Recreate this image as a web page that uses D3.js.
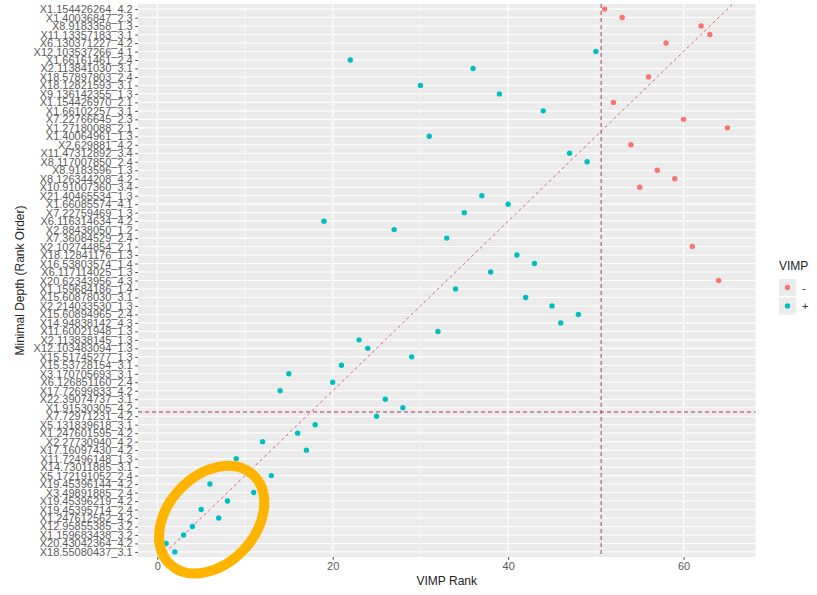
<!DOCTYPE html>
<html lang="en">
<head>
    <meta charset="UTF-8">
    <title>Minimal depth vs VIMP rank</title>
    <style>
        body { margin: 0; background: #fff; }
        text { font-family: "Liberation Sans", Arial, sans-serif; }
    </style>
</head>
<body>
    <script src="https://cdnjs.cloudflare.com/ajax/libs/d3/7.8.5/d3.min.js"></script>
    <script>

        // variables, listed top to bottom as on the axis (top = highest minimal depth rank)
        var labels = [
            "X1.154426264_4.2", "X1.40036847_2.3", "X8.9183358_1.3", "X11.13357183_3.1",
            "X6.130371227_4.2", "X12.103537266_4.1", "X1.66161461_2.4", "X2.113841030_3.1",
            "X18.57897803_2.4", "X18.12821593_3.1", "X9.136142355_1.3", "X1.154426970_2.1",
            "X1.66102257_3.1", "X7.22766645_2.3", "X1.27180088_2.1", "X1.40064961_1.3",
            "X2.629881_4.2", "X11.47312892_3.4", "X8.117007850_2.4", "X8.9183596_1.3",
            "X8.126344208_4.2", "X10.91007360_3.4", "X21.40465534_1.3", "X1.66085574_4.1",
            "X7.22759469_1.3", "X6.116314634_4.2", "X2.88438050_1.2", "X7.36084529_2.4",
            "X2.102744854_2.1", "X18.12841176_1.3", "X16.53803574_1.4", "X6.117114025_1.3",
            "X20.62343956_4.3", "X1.159684186_1.4", "X15.60878030_3.1", "X2.214033530_1.3",
            "X15.60894965_2.4", "X14.94838142_4.3", "X11.60021948_1.3", "X2.113838145_1.3",
            "X12.103483094_1.3", "X15.51745277_1.3", "X15.53728154_3.1", "X3.170705693_3.1",
            "X6.126851160_2.4", "X17.72699833_4.2", "X22.39074737_3.1", "X1.91530305_4.2",
            "X7.72971231_4.2", "X5.131839618_3.1", "X1.247601595_4.2", "X2.27730940_4.2",
            "X17.16097430_4.2", "X11.72496148_1.3", "X14.73011885_3.1", "X5.172191052_2.4",
            "X19.45396144_4.2", "X3.49891885_2.4", "X19.45396219_4.2", "X19.45395714_2.4",
            "X1.247612562_4.2", "X12.95855385_3.2", "X1.159683438_3.2", "X20.43042364_4.2",
            "X18.55080437_3.1"
        ];

        // VIMP rank of each variable, same order as labels
        var vimpRank = [
            51, 53, 62, 63, 58, 50, 22, 36, 56, 30, 39, 52, 44, 60, 65, 31,
            54, 47, 49, 57, 59, 55, 37, 40, 35, 19, 27, 33, 61, 41, 43, 38,
            64, 34, 42, 45, 48, 46, 32, 23, 24, 29, 21, 15, 20, 14, 26, 28,
            25, 18, 16, 12, 17, 9, 10, 13, 6, 11, 8, 5, 7, 4, 3, 1, 2
        ];

        // sign of VIMP, same order
        var vimpSign = [
            "-", "-", "-", "-", "-", "+", "+", "+", "-", "+", "+", "-", "+", "-", "-", "+",
            "-", "+", "+", "-", "-", "-", "+", "+", "+", "+", "+", "+", "-", "+", "+", "+",
            "-", "+", "+", "+", "+", "+", "+", "+", "+", "+", "+", "+", "+", "+", "+", "+",
            "+", "+", "+", "+", "+", "+", "+", "+", "+", "+", "+", "+", "+", "+", "+", "+", "+"
        ];

        var xTicks = [0, 20, 40, 60];
        var xMinor = [10, 30, 50];
        var vimpCut = 50.6;    // vertical threshold
        var depthCut = 17.5;   // horizontal threshold
        var legendKeys = ["-", "+"];

        var width = 817,
            height = 595;

        var panel = { left: 138, right: 755.5, top: 4, bottom: 557 };
        var n = labels.length;

        var color = d3.scaleOrdinal()
            .domain(legendKeys)
            .range(["#F8766D", "#00BFC4"]);

        var x = d3.scaleLinear()
            .domain([-2.2, 68.2])
            .range([panel.left, panel.right]);

        // minimal depth rank: 1 at bottom, n at top
        var yRank = d3.scaleLinear()
            .domain([0.4, n + 0.6])
            .range([panel.bottom, panel.top]);

        var y = d3.scalePoint()
            .domain(labels)
            .range([panel.top, panel.bottom])
            .padding(0.6);

        var svg = d3.select("body").append("svg")
            .attr("width", width)
            .attr("height", height);

        svg.append("rect")
            .attr("x", panel.left)
            .attr("y", panel.top)
            .attr("width", panel.right - panel.left)
            .attr("height", panel.bottom - panel.top)
            .attr("fill", "#EBEBEB");

        var grid = svg.append("g");

        grid.selectAll(".minor")
            .data(xMinor)
            .enter().append("line")
            .attr("x1", function(d) { return x(d); })
            .attr("x2", function(d) { return x(d); })
            .attr("y1", panel.top)
            .attr("y2", panel.bottom)
            .attr("stroke", "#fff")
            .attr("stroke-width", 0.6);

        grid.selectAll(".major")
            .data(xTicks)
            .enter().append("line")
            .attr("x1", function(d) { return x(d); })
            .attr("x2", function(d) { return x(d); })
            .attr("y1", panel.top)
            .attr("y2", panel.bottom)
            .attr("stroke", "#fff")
            .attr("stroke-width", 1.1);

        grid.selectAll(".hgrid")
            .data(labels)
            .enter().append("line")
            .attr("x1", panel.left)
            .attr("x2", panel.right)
            .attr("y1", function(d) { return y(d); })
            .attr("y2", function(d) { return y(d); })
            .attr("stroke", "#fff")
            .attr("stroke-width", 1.1);

        // axes
        var xAxis = svg.append("g")
            .attr("transform", "translate(0," + panel.bottom + ")")
            .call(d3.axisBottom(x).tickValues(xTicks).tickSize(2.8).tickPadding(2));

        var yAxis = svg.append("g")
            .attr("transform", "translate(" + panel.left + ",0)")
            .call(d3.axisLeft(y).tickSize(2.8).tickPadding(2.5));

        [xAxis, yAxis].forEach(function(g) {
            g.select(".domain").remove();
            g.selectAll(".tick line").attr("stroke", "#4D4D4D").attr("stroke-width", 1);
            g.selectAll(".tick text")
                .attr("fill", "#5A5A5A")
                .style("font-family", "'Liberation Sans', Arial, sans-serif")
                .style("font-size", "11px");
        });

        // reference lines
        svg.append("line")
            .attr("x1", x(vimpCut)).attr("x2", x(vimpCut))
            .attr("y1", panel.top).attr("y2", panel.bottom)
            .attr("stroke", "#B23A62")
            .attr("stroke-width", 1)
            .attr("stroke-dasharray", "4,3");

        svg.append("line")
            .attr("x1", panel.left).attr("x2", panel.right)
            .attr("y1", yRank(depthCut)).attr("y2", yRank(depthCut))
            .attr("stroke", "#B23A62")
            .attr("stroke-width", 1)
            .attr("stroke-dasharray", "4,3");

        var d0 = Math.max(x.domain()[0], yRank.domain()[0]),
            d1 = Math.min(x.domain()[1], yRank.domain()[1]);
        svg.append("line")
            .attr("x1", x(d0)).attr("y1", yRank(d0))
            .attr("x2", x(d1)).attr("y2", yRank(d1))
            .attr("stroke", "#D2566A")
            .attr("stroke-width", 0.9)
            .attr("stroke-dasharray", "3,3");

        // points
        svg.append("g").selectAll("circle")
            .data(labels)
            .enter().append("circle")
            .attr("cx", function(d, i) { return x(vimpRank[i]); })
            .attr("cy", function(d) { return y(d); })
            .attr("r", 2.7)
            .attr("fill", function(d, i) { return color(vimpSign[i]); });

        // axis titles
        svg.append("text")
            .attr("x", (panel.left + panel.right) / 2)
            .attr("y", 585)
            .attr("text-anchor", "middle")
            .attr("fill", "#222")
            .style("font-size", "12px")
            .text("VIMP Rank");

        svg.append("text")
            .attr("transform", "translate(24," + (panel.top + panel.bottom) / 2 + ") rotate(-90)")
            .attr("text-anchor", "middle")
            .attr("fill", "#222")
            .style("font-size", "12px")
            .text("Minimal Depth (Rank Order)");

        // legend
        var legend = svg.append("g").attr("transform", "translate(779,0)");

        legend.append("text")
            .attr("x", 0)
            .attr("y", 270)
            .attr("fill", "#222")
            .style("font-size", "12px")
            .text("VIMP");

        var key = legend.selectAll(".key")
            .data(legendKeys)
            .enter().append("g")
            .attr("transform", function(d, i) { return "translate(0," + (279 + i * 18.5) + ")"; });

        key.append("rect")
            .attr("width", 17)
            .attr("height", 17)
            .attr("fill", "#EBEBEB");

        key.append("circle")
            .attr("cx", 8.5)
            .attr("cy", 8.5)
            .attr("r", 2.7)
            .attr("fill", function(d) { return color(d); });

        key.append("text")
            .attr("x", 23)
            .attr("y", 12.5)
            .attr("fill", "#333")
            .style("font-size", "11px")
            .text(function(d) { return d; });

        // highlight ring around the top-ranked variables
        svg.append("ellipse")
            .attr("cx", x(6.2))
            .attr("cy", yRank(4.8))
            .attr("rx", 61)
            .attr("ry", 44)
            .attr("transform", "rotate(-47," + x(6.2) + "," + yRank(4.8) + ")")
            .attr("fill", "none")
            .attr("stroke", "#FFB400")
            .attr("stroke-width", 10);

    </script>
</body>
</html>
